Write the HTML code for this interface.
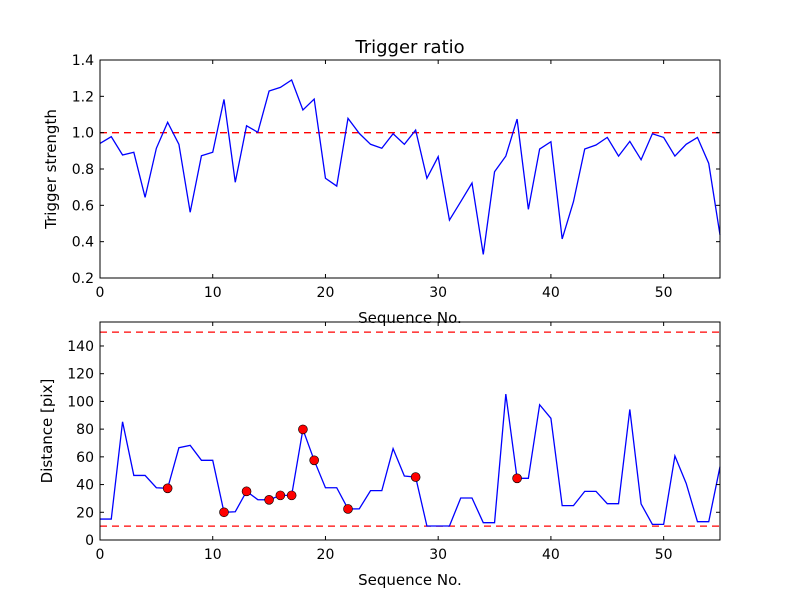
<!DOCTYPE html>
<html><head><meta charset="utf-8"><style>
body{margin:0;background:#fff;}
svg text{font-family:"DejaVu Sans","Liberation Sans",sans-serif;fill:#000;}
</style></head><body>
<svg id="fig" width="800" height="600" xmlns="http://www.w3.org/2000/svg">
<rect width="800" height="600" fill="#fff"/>
</svg>
<script>
const ratioValues=[0.941,0.978,0.877,0.892,0.644,0.914,1.057,0.936,0.562,0.873,0.892,1.183,0.727,1.038,1.002,1.229,1.249,1.29,1.125,1.185,0.749,0.706,1.079,0.996,0.936,0.914,0.994,0.936,1.014,0.749,0.868,0.519,0.62,0.723,0.33,0.785,0.871,1.075,0.578,0.91,0.95,0.415,0.62,0.91,0.932,0.974,0.871,0.952,0.851,0.994,0.974,0.871,0.936,0.974,0.831,0.437];
const distValues=[15.1,15.1,85.3,46.6,46.6,37.7,37.3,66.6,68.3,57.5,57.5,20,20.4,35.1,29.1,29,32.2,32.2,79.8,57.5,37.7,37.7,22.4,22.5,35.6,35.6,65.9,46.2,45.4,10.1,10.1,10.1,30.3,30.3,12.5,12.5,105.3,44.5,44.5,97.6,87.8,24.8,24.8,35.1,35.1,26.2,26.2,94.2,26,11.3,11.3,60.6,40.9,13.2,13.2,52.9];
const markerIdx=[6,11,13,15,16,17,18,19,22,28,37];
const xTicks=[0,10,20,30,40,50];
const ratioTicks=[0.2,0.4,0.6,0.8,1.0,1.2,1.4];
const distTicks=[0,20,40,60,80,100,120,140];
const ratioThreshold=[1.0];
const distThresholds=[10,150];

const svg=document.getElementById('fig');
const NS='http://www.w3.org/2000/svg';
function mk(tag,attrs,parent){const e=document.createElementNS(NS,tag);for(const k in attrs)e.setAttribute(k,attrs[k]);(parent||svg).appendChild(e);return e;}
const X0=100,X1=720;
const sx=v=>X0+(v-0)/(55-0)*(X1-X0);

function panel(name,top,bot,ymin,ymax,yt,yfmt,vals,thr,ylabel,markers){
  const sy=v=>bot-(v-ymin)/(ymax-ymin)*(bot-top);
  const g=mk('g',{});
  
  
  thr.forEach(t=>{const l=mk('line',{x1:X0,x2:X1,y1:sy(t),y2:sy(t),stroke:'#f00','stroke-width':1.3,'stroke-dasharray':'7,5'},g);
    
    });
  const pts=vals.map((v,i)=>sx(i).toFixed(2)+','+sy(v).toFixed(2)).join(' ');
  const pl=mk('polyline',{points:pts,fill:'none',stroke:'#00f','stroke-width':1.3},g);
  
  
  (markers||[]).forEach(i=>{const c=mk('circle',{cx:sx(i),cy:sy(vals[i]),r:4.5,fill:'#f00',stroke:'#000','stroke-width':0.6},g);
    
    });
  const fr=mk('rect',{x:X0,y:top,width:X1-X0,height:bot-top,fill:'none',stroke:'#000','stroke-width':1},g);
  
  
  xTicks.forEach(t=>{const x=sx(t);
    mk('line',{x1:x,x2:x,y1:bot,y2:bot-4,stroke:'#000'},g);
    mk('line',{x1:x,x2:x,y1:top,y2:top+4,stroke:'#000'},g);
    const tx=mk('text',{x:x,y:bot+19,'text-anchor':'middle','font-size':14},g);tx.textContent=t;
    
    });
  yt.forEach(t=>{const y=sy(t);
    mk('line',{x1:X0,x2:X0+4,y1:y,y2:y,stroke:'#000'},g);
    mk('line',{x1:X1,x2:X1-4,y1:y,y2:y,stroke:'#000'},g);
    const tx=mk('text',{x:X0-6,y:y+5,'text-anchor':'end','font-size':14},g);tx.textContent=yfmt(t);
    
    });
  const xl=mk('text',{x:410,y:bot+45,'text-anchor':'middle','font-size':15},g);xl.textContent='Sequence No.';
  
  
  const yl=mk('text',{x:0,y:0,'text-anchor':'middle','font-size':15,transform:`translate(${name==='ratio-panel'?56:52},${(top+bot)/2}) rotate(-90)`},g);yl.textContent=ylabel;
  
  
}
panel('ratio-panel',60,278,0.2,1.4,ratioTicks,t=>t.toFixed(1),ratioValues,ratioThreshold,'Trigger strength',null);
panel('distance-panel',322,540,0,157.3,distTicks,t=>String(t),distValues,distThresholds,'Distance [pix]',markerIdx);
const ti=mk('text',{x:410,y:53,'text-anchor':'middle','font-size':18});ti.textContent='Trigger ratio';


</script>
</body></html>
